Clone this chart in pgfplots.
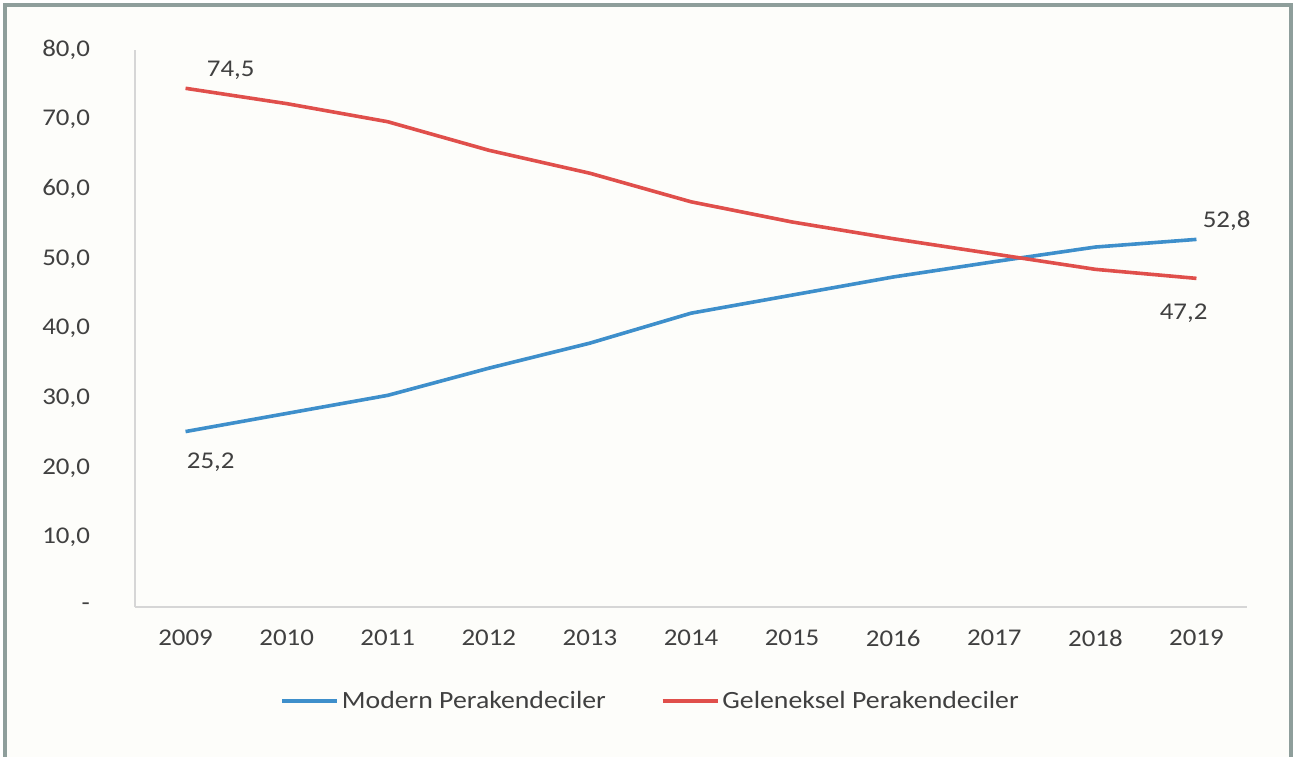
\documentclass[border=0pt]{standalone}
\usepackage{fontspec}
\setmainfont{Carlito}[FakeStretch=1.12]
\usepackage{pgfplots}
\pgfplotsset{compat=1.18}

\definecolor{modern}{HTML}{3E8FCB}
\definecolor{geleneksel}{HTML}{E04F4B}
\definecolor{framegray}{HTML}{8E9E9B}
\definecolor{axisgray}{HTML}{D6D6D6}
\definecolor{txt}{HTML}{404040}
\definecolor{bg}{HTML}{FDFDFA}

\begin{document}
\begin{tikzpicture}
\useasboundingbox (0,0) rectangle (656pt,378pt);
\fill[bg] (2.5pt,-5pt) rectangle (645.5pt,375.5pt);
\draw[framegray, line width=2pt] (2.5pt,-5pt) -- (2.5pt,375.5pt) -- (645.5pt,375.5pt) -- (645.5pt,-5pt);
\begin{axis}[
    at={(67.5pt,74.5pt)}, anchor=south west,
    scale only axis, width=556pt, height=278.5pt,
    xmin=2008.5, xmax=2019.5, ymin=0, ymax=80,
    clip=false,
    axis x line*=bottom, axis y line*=left,
    axis line style={axisgray, line width=0.8pt, -},
    tick style={draw=none},
    xtick={2009,2010,2011,2012,2013,2014,2015,2016,2017,2018,2019},
    xticklabels={2009,2010,2011,2012,2013,2014,2015,2016,2017,2018,2019},
    ytick={0,10,20,30,40,50,60,70,80},
    yticklabels={{-\hspace{6pt}},{10,0},{20,0},{30,0},{40,0},{50,0},{60,0},{70,0},{80,0}},
    tick label style={font=\fontsize{12}{14}\selectfont, text=txt},
    xticklabel style={yshift=-8pt},
    yticklabel style={xshift=-19pt},
    legend columns=2,
    legend cell align=left,
    legend style={at={(0.464,-0.169)}, anchor=center, draw=none, fill=none,
        font=\fontsize{12.4}{14}\selectfont, text=txt,
        nodes={inner sep=1.5pt},
        /tikz/every even column/.append style={column sep=26pt}},
    legend image code/.code={\draw[#1] (0pt,0pt) -- (27.5pt,0pt);},
]
\addplot[modern, line width=1.8pt] coordinates {
    (2009,25.2) (2010,27.8) (2011,30.4) (2012,34.3) (2013,37.9) (2014,42.2)
    (2015,44.8) (2016,47.4) (2017,49.6) (2018,51.7) (2019,52.8)
};
\addlegendentry{Modern Perakendeciler}
\addplot[geleneksel, line width=1.8pt] coordinates {
    (2009,74.5) (2010,72.3) (2011,69.7) (2012,65.6) (2013,62.3) (2014,58.2)
    (2015,55.3) (2016,52.9) (2017,50.7) (2018,48.5) (2019,47.2)
};
\addlegendentry{Geleneksel Perakendeciler}

% data labels
\begin{scope}[every node/.style={font=\fontsize{12}{14}\selectfont, text=txt, inner sep=0pt, anchor=west}]
\node[xshift=10.5pt, yshift=9pt] at (axis cs:2009,74.5) {74,5};
\node[xshift=0.5pt, yshift=-15.5pt] at (axis cs:2009,25.2) {25,2};
\node[xshift=3pt, yshift=9.5pt] at (axis cs:2019,52.8) {52,8};
\node[xshift=-18.5pt, yshift=-17.5pt] at (axis cs:2019,47.2) {47,2};
\end{scope}
\end{axis}
\end{tikzpicture}
\end{document}
